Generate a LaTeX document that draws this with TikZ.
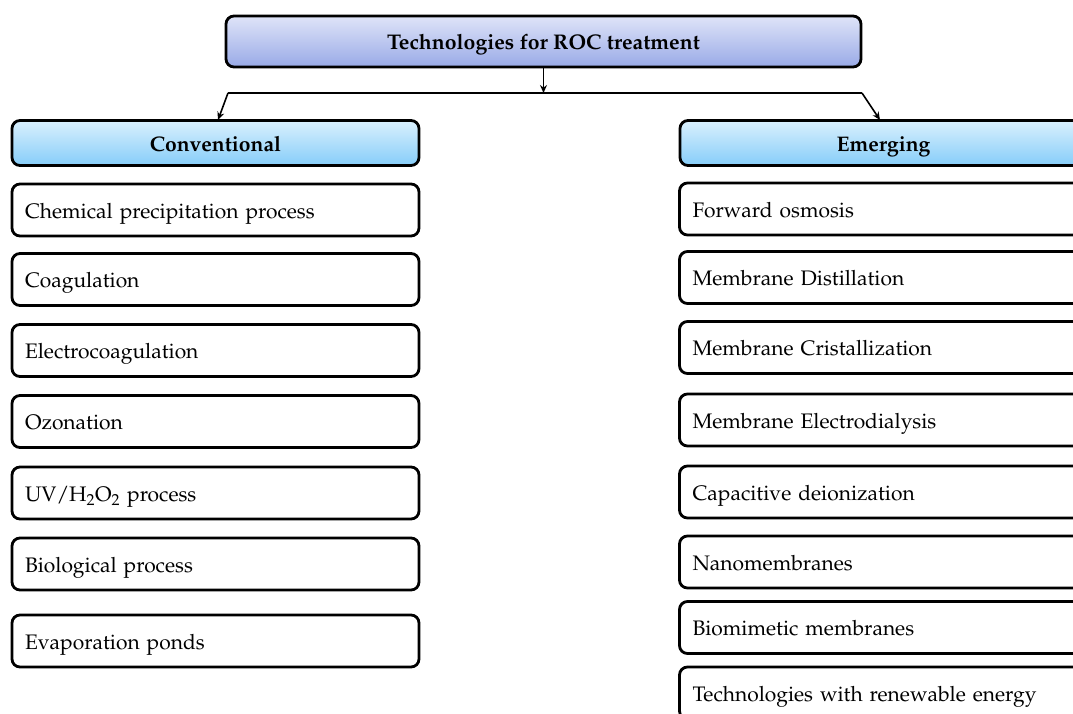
\documentclass[tikz,border=0pt]{standalone}
\usepackage[T1]{fontenc}
\usepackage{mathpazo}
\usetikzlibrary{arrows.meta}
\definecolor{ttop}{HTML}{DFE4F8}
\definecolor{tbot}{HTML}{99AAE7}
\definecolor{ctop}{HTML}{DAF0FD}
\definecolor{cbot}{HTML}{86CDF9}
\tikzset{
  base/.style={draw=black, line width=2.8pt, rounded corners=8pt, text height=18pt, text depth=1.2pt},
  titlebox/.style={base, top color=ttop, bottom color=tbot, minimum width=635pt, minimum height=51pt, inner ysep=0pt, font=\fontsize{21.2}{24}\selectfont\bfseries},
  headbox/.style={base, top color=ctop, bottom color=cbot, minimum width=407pt, minimum height=45pt, inner ysep=0pt, font=\fontsize{21.1}{24}\selectfont\bfseries},
  itembox/.style={base, fill=white, text width=381pt, inner xsep=13pt, inner ysep=0pt, align=left, minimum height=52pt, font=\fontsize{21}{25}\selectfont},
  arr/.style={line width=1.6pt, -{Stealth[length=8pt,width=7pt]}},
  ln/.style={line width=1.6pt}
}
\begin{document}
\begin{tikzpicture}[x=1pt,y=-1pt]
\useasboundingbox (0,0) rectangle (1073,713);
\clip (0,0) rectangle (1073,713);
\fill[white] (0,0) rectangle (1073,713);
\node[titlebox] (title) at (543.5,41.5) {Technologies for ROC treatment};
\node[headbox] (conv) at (215.5,143) {Conventional};
\node[headbox] (emer) at (883.5,143) {Emerging};
% left items
\node[itembox] (l1) at (215.5,210) {Chemical precipitation process};
\node[itembox] (l2) at (215.5,279.5) {Coagulation};
\node[itembox] (l3) at (215.5,350.5) {Electrocoagulation};
\node[itembox] (l4) at (215.5,421.5) {Ozonation};
\node[itembox] (l5) at (215.5,493) {UV/H\textsubscript{2}O\textsubscript{2} process};
\node[itembox] (l6) at (215.5,564) {Biological process};
\node[itembox] (l7) at (215.5,641) {Evaporation ponds};
% right items
\node[itembox] (r1) at (883,209) {Forward osmosis};
\node[itembox] (r2) at (883,277.5) {Membrane Distillation};
\node[itembox] (r3) at (883,347.5) {Membrane Cristallization};
\node[itembox] (r4) at (883,420) {Membrane Electrodialysis};
\node[itembox] (r5) at (883,492) {Capacitive deionization};
\node[itembox] (r6) at (883,562) {Nanomembranes};
\node[itembox] (r7) at (883,627.5) {Biomimetic membranes};
\node[itembox] (r8) at (883,693) {Technologies with renewable energy};
% connectors
\coordinate (j) at (543.5,93);
\coordinate (hl) at (228,93);
\coordinate (hr) at (862,93);
\coordinate (tl) at (218,120);
\coordinate (tr) at (880,120);
\draw[arr] (title.south) -- (j);
\draw[ln] (hl) -- (hr);
\draw[arr] (hl) -- (tl);
\draw[arr] (hr) -- (tr);
\end{tikzpicture}
\end{document}
